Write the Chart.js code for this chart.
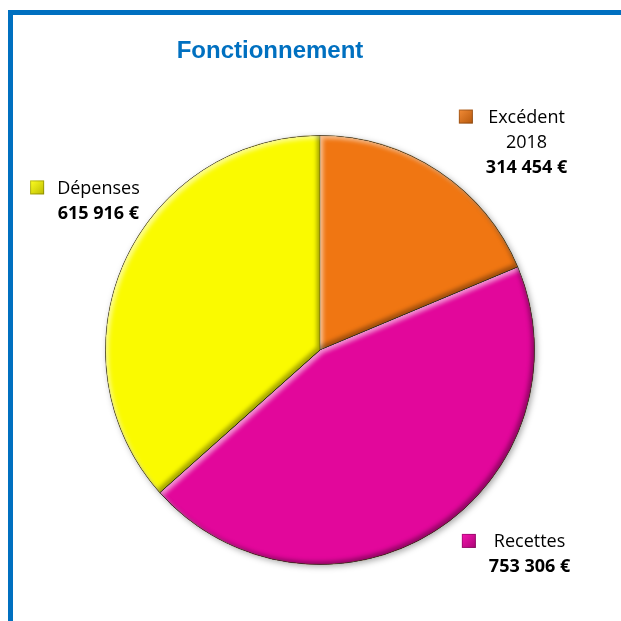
<!DOCTYPE html>
<html>
<head>
<meta charset="utf-8">
<script src="https://cdn.jsdelivr.net/npm/chart.js@4"></script>
<style>
  html, body { margin: 0; padding: 0; background: #fff; }
  #wrap { position: relative; width: 621px; height: 621px; overflow: hidden; }
  #frame {
    position: absolute; left: 8px; top: 10px; width: 700px; height: 700px;
    border-left: 5px solid #0070C0; border-top: 5px solid #0070C0;
  }
  canvas { position: absolute; left: 0; top: 0; }
</style>
</head>
<body>
<div id="wrap">
  <div id="frame"></div>
  <canvas id="chart" width="621" height="621"></canvas>
</div>
<script>
// Données du graphique
const categories = ['Excédent 2018', 'Recettes', 'Dépenses'];
const labelLines = [['Excédent', '2018'], ['Recettes'], ['Dépenses']];
const amounts = [314454, 753306, 615916];
const sliceColors = ['#F07612', '#E2079B', '#FAFA00'];
const chartTitle = 'Fonctionnement';

function formatEuro(v) {
    return v.toString().replace(/\B(?=(\d{3})+(?!\d))/g, ' ') + ' €';
}

function slicePath(ctx, arc) {
    ctx.beginPath();
    ctx.moveTo(arc.x, arc.y);
    ctx.arc(arc.x, arc.y, arc.outerRadius, arc.startAngle, arc.endAngle);
    ctx.closePath();
}

// Effet biseau + ombre portée (comme dans Excel)
const bevelPlugin = {
    id: 'bevelPlugin',
    beforeDatasetsDraw(chart) {
        const arc = chart.getDatasetMeta(0).data[0];
        const ctx = chart.ctx;
        ctx.save();
        ctx.shadowColor = 'rgba(0,0,0,0.35)';
        ctx.shadowBlur = 6;
        ctx.shadowOffsetX = 2;
        ctx.shadowOffsetY = 2;
        ctx.fillStyle = '#fff';
        ctx.beginPath();
        ctx.arc(arc.x, arc.y, arc.outerRadius, 0, Math.PI * 2);
        ctx.fill();
        ctx.restore();
    },
    afterDatasetsDraw(chart) {
        const ctx = chart.ctx;
        const shades = [
            { color: 'rgba(255,255,255,0.55)', dx: 3, dy: 3 },
            { color: 'rgba(0,0,0,0.35)', dx: -3, dy: -3 }
        ];
        chart.getDatasetMeta(0).data.forEach(arc => {
            shades.forEach(s => {
                ctx.save();
                slicePath(ctx, arc);
                ctx.clip();
                ctx.beginPath();
                ctx.rect(-2000, -2000, 5000, 5000);
                ctx.moveTo(arc.x, arc.y);
                ctx.arc(arc.x, arc.y, arc.outerRadius, arc.startAngle, arc.endAngle);
                ctx.closePath();
                ctx.shadowColor = s.color;
                ctx.shadowBlur = 4;
                ctx.shadowOffsetX = s.dx;
                ctx.shadowOffsetY = s.dy;
                ctx.fillStyle = '#000';
                ctx.fill('evenodd');
                ctx.restore();
            });
        });
    }
};

// Étiquettes façon Excel : carré de légende + nom + montant en gras
const labelPlugin = {
    id: 'labelPlugin',
    afterDraw(chart) {
        const ctx = chart.ctx;
        const arcs = chart.getDatasetMeta(0).data;
        // centre du bloc de texte par rapport au centre du camembert (fractions du rayon)
        const anchors = [[0.963, -0.967], [0.977, 0.953], [-1.033, -0.695]];
        const normal = '18px "Open Sans", sans-serif';
        const bold = 'bold 18px "Open Sans", sans-serif';
        const lineH = 25, box = 14, gap = 13;

        ctx.save();
        // titre
        ctx.fillStyle = '#0070C0';
        ctx.font = 'bold 24px "Liberation Sans", Arial, sans-serif';
        ctx.textAlign = 'center';
        ctx.textBaseline = 'middle';
        ctx.fillText(chartTitle, 270, 51);

        arcs.forEach((arc, i) => {
            const r = arc.outerRadius;
            const cx = arc.x + anchors[i][0] * r;
            const cy = arc.y + anchors[i][1] * r;
            const lines = labelLines[i];
            const value = formatEuro(amounts[i]);
            const total = lines.length + 1;
            let y = cy - (total - 1) * lineH / 2;

            ctx.font = normal;
            let w = 0;
            lines.forEach(l => { w = Math.max(w, ctx.measureText(l).width); });
            ctx.font = bold;
            w = Math.max(w, ctx.measureText(value).width);

            // carré de légende
            const bx = cx - w / 2 - gap - box;
            const by = y - box / 2 - 1;
            const g = ctx.createLinearGradient(bx, by, bx + box, by + box);
            g.addColorStop(0, Chart.helpers.color(sliceColors[i]).lighten(0.15).rgbString());
            g.addColorStop(1, Chart.helpers.color(sliceColors[i]).darken(0.25).rgbString());
            ctx.fillStyle = g;
            ctx.fillRect(bx, by, box, box);
            ctx.strokeStyle = 'rgba(0,0,0,0.25)';
            ctx.lineWidth = 1;
            ctx.strokeRect(bx + 0.5, by + 0.5, box - 1, box - 1);

            ctx.fillStyle = '#000';
            ctx.textAlign = 'center';
            ctx.textBaseline = 'middle';
            ctx.font = normal;
            lines.forEach(line => {
                ctx.fillText(line, cx, y);
                y += lineH;
            });
            ctx.font = bold;
            ctx.fillText(value, cx, y);
        });
        ctx.restore();
    }
};

new Chart(document.getElementById('chart'), {
    type: 'pie',
    data: {
        labels: categories,
        datasets: [{
            data: amounts,
            backgroundColor: sliceColors,
            borderColor: 'rgba(90,70,0,0.55)',
            borderWidth: 1
        }]
    },
    options: {
        responsive: false,
        animation: false,
        layout: {
            padding: { left: 105, right: 86, top: 135, bottom: 56 }
        },
        plugins: {
            legend: { display: false },
            title: { display: false },
            tooltip: { enabled: false }
        }
    },
    plugins: [bevelPlugin, labelPlugin]
});
</script>
</body>
</html>
